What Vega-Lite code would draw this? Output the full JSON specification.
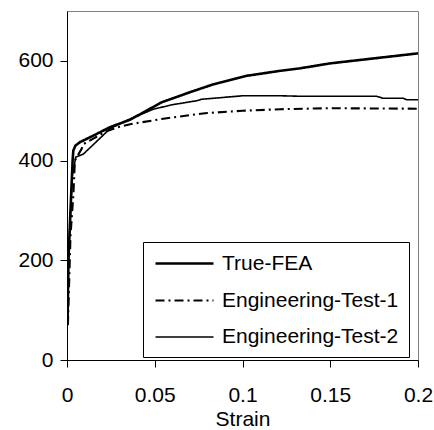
{
  "$schema": "https://vega.github.io/schema/vega-lite/v6.json",
  "width": 351,
  "height": 349,
  "autosize": {"type": "none"},
  "padding": {"left": 67, "top": 11, "right": 16, "bottom": 70},
  "background": "white",
  "config": {
    "view": {"stroke": "#808080", "strokeWidth": 1},
    "axis": {
      "labelFont": "Liberation Sans", "labelFontSize": 21, "labelColor": "black",
      "titleFont": "Liberation Sans", "titleFontSize": 21, "titleColor": "black", "titleFontWeight": "normal",
      "domainColor": "black", "tickColor": "black", "grid": false, "tickSize": 7
    },
    "legend": {
      "orient": "none", "legendX": 76, "legendY": 231,
      "fillColor": "white", "strokeColor": "black", "strokeWidth": 1,
      "padding": 10, "rowPadding": 15,
      "labelFont": "Liberation Sans", "labelFontSize": 21, "labelColor": "black", "labelLimit": 0,
      "symbolType": "M-2.9,0H2.9", "symbolSize": 400, "symbolStrokeColor": "black",
      "symbolOffset": 20, "labelOffset": 26
    }
  },
  "data": {"values": [
    {"series": "True-FEA", "strain": 0.0003, "stress": 70},
    {"series": "True-FEA", "strain": 0.0008, "stress": 200},
    {"series": "True-FEA", "strain": 0.0032, "stress": 400},
    {"series": "True-FEA", "strain": 0.0036, "stress": 420},
    {"series": "True-FEA", "strain": 0.0048, "stress": 430},
    {"series": "True-FEA", "strain": 0.0074, "stress": 437},
    {"series": "True-FEA", "strain": 0.015, "stress": 450},
    {"series": "True-FEA", "strain": 0.0245, "stress": 467},
    {"series": "True-FEA", "strain": 0.036, "stress": 482},
    {"series": "True-FEA", "strain": 0.054, "stress": 517},
    {"series": "True-FEA", "strain": 0.07, "stress": 537},
    {"series": "True-FEA", "strain": 0.0834, "stress": 553},
    {"series": "True-FEA", "strain": 0.1024, "stress": 570},
    {"series": "True-FEA", "strain": 0.1214, "stress": 580},
    {"series": "True-FEA", "strain": 0.1328, "stress": 585},
    {"series": "True-FEA", "strain": 0.15, "stress": 595},
    {"series": "True-FEA", "strain": 0.175, "stress": 605},
    {"series": "True-FEA", "strain": 0.2, "stress": 615},
    {"series": "Engineering-Test-1", "strain": 0.0005, "stress": 70},
    {"series": "Engineering-Test-1", "strain": 0.002, "stress": 250},
    {"series": "Engineering-Test-1", "strain": 0.0036, "stress": 330},
    {"series": "Engineering-Test-1", "strain": 0.0045, "stress": 400},
    {"series": "Engineering-Test-1", "strain": 0.0084, "stress": 424},
    {"series": "Engineering-Test-1", "strain": 0.0093, "stress": 433},
    {"series": "Engineering-Test-1", "strain": 0.015, "stress": 444},
    {"series": "Engineering-Test-1", "strain": 0.022, "stress": 458},
    {"series": "Engineering-Test-1", "strain": 0.03, "stress": 468},
    {"series": "Engineering-Test-1", "strain": 0.036, "stress": 473},
    {"series": "Engineering-Test-1", "strain": 0.0549, "stress": 484},
    {"series": "Engineering-Test-1", "strain": 0.0786, "stress": 495},
    {"series": "Engineering-Test-1", "strain": 0.1, "stress": 500},
    {"series": "Engineering-Test-1", "strain": 0.1214, "stress": 503},
    {"series": "Engineering-Test-1", "strain": 0.15, "stress": 505},
    {"series": "Engineering-Test-1", "strain": 0.2, "stress": 504},
    {"series": "Engineering-Test-2", "strain": 0.0003, "stress": 70},
    {"series": "Engineering-Test-2", "strain": 0.001, "stress": 220},
    {"series": "Engineering-Test-2", "strain": 0.003, "stress": 370},
    {"series": "Engineering-Test-2", "strain": 0.005, "stress": 407},
    {"series": "Engineering-Test-2", "strain": 0.0093, "stress": 413},
    {"series": "Engineering-Test-2", "strain": 0.015, "stress": 432},
    {"series": "Engineering-Test-2", "strain": 0.0245, "stress": 464},
    {"series": "Engineering-Test-2", "strain": 0.035, "stress": 482},
    {"series": "Engineering-Test-2", "strain": 0.0492, "stress": 503},
    {"series": "Engineering-Test-2", "strain": 0.06, "stress": 512},
    {"series": "Engineering-Test-2", "strain": 0.0739, "stress": 520},
    {"series": "Engineering-Test-2", "strain": 0.0767, "stress": 523},
    {"series": "Engineering-Test-2", "strain": 0.1003, "stress": 530},
    {"series": "Engineering-Test-2", "strain": 0.1214, "stress": 530},
    {"series": "Engineering-Test-2", "strain": 0.1328, "stress": 529},
    {"series": "Engineering-Test-2", "strain": 0.1765, "stress": 529},
    {"series": "Engineering-Test-2", "strain": 0.18, "stress": 525},
    {"series": "Engineering-Test-2", "strain": 0.1915, "stress": 525},
    {"series": "Engineering-Test-2", "strain": 0.1936, "stress": 522},
    {"series": "Engineering-Test-2", "strain": 0.2, "stress": 522}
  ]},
  "mark": {"type": "line", "color": "black", "clip": true},
  "encoding": {
    "x": {
      "field": "strain", "type": "quantitative", "title": "Strain",
      "scale": {"domain": [0, 0.2], "nice": false, "zero": false},
      "axis": {"values": [0, 0.05, 0.1, 0.15, 0.2], "format": "~g", "labelPadding": 17, "titlePadding": 3, "labelFlush": false}
    },
    "y": {
      "field": "stress", "type": "quantitative", "title": null,
      "scale": {"domain": [0, 700], "nice": false},
      "axis": {"values": [0, 200, 400, 600], "labelPadding": 7}
    },
    "strokeDash": {
      "field": "series", "type": "nominal", "title": null,
      "scale": {"domain": ["True-FEA", "Engineering-Test-1", "Engineering-Test-2"], "range": [[1, 0], [9, 4, 2, 4], [1, 0]]}
    },
    "strokeWidth": {
      "field": "series", "type": "nominal", "title": null,
      "scale": {"domain": ["True-FEA", "Engineering-Test-1", "Engineering-Test-2"], "range": [2.6, 1.6, 1]}
    },
    "order": {"field": "strain", "type": "quantitative"}
  }
}
